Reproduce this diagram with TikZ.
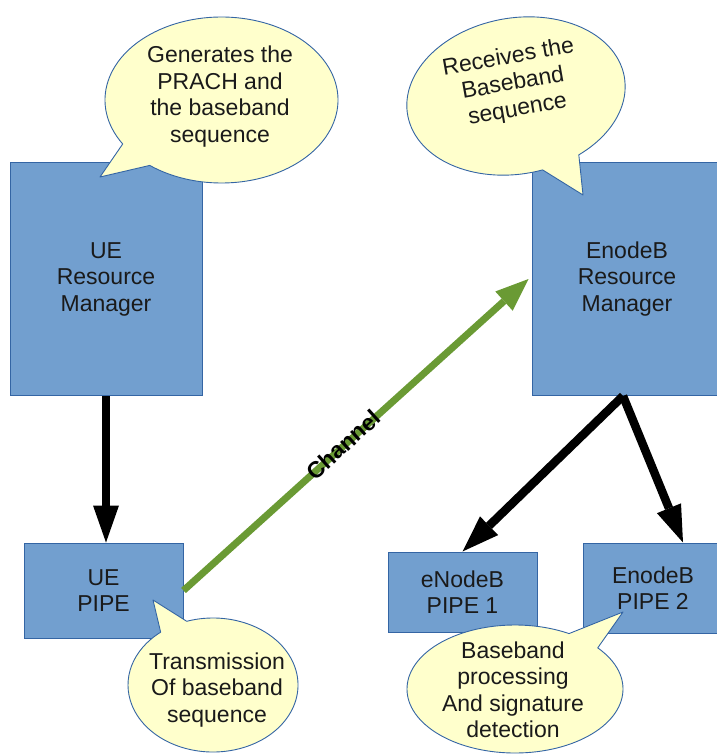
\documentclass[tikz,border=0pt]{standalone}
\usepackage{fontspec}
\setmainfont{Liberation Sans}
\usetikzlibrary{arrows.meta,calc}
\definecolor{boxfill}{HTML}{729FCF}
\definecolor{boxline}{HTML}{3465A4}
\definecolor{notefill}{HTML}{FFFFCC}
\definecolor{chgreen}{HTML}{6A9A34}
\definecolor{ink}{HTML}{1A1A1A}
\begin{document}
\begin{tikzpicture}[x=1pt,y=-1pt,
  txt/.style={text=ink, align=center, inner sep=0pt, font=\fontsize{23}{26.5}\selectfont},
  block/.style={txt, draw=boxline, line width=1pt, fill=boxfill},
  note/.style={draw=boxline, line width=0.9pt, fill=notefill, line join=round},
  flow/.style={line width=8.5pt, draw=black, -{Triangle[length=37pt,width=26pt,line width=0pt]}},
  chan/.style={line width=7pt, draw=chgreen, -{Triangle[length=33pt,width=26pt,line width=0pt]}},
  chanlabel/.style={text=black, inner sep=0pt, font=\fontsize{23}{26}\selectfont\bfseries}]
\useasboundingbox (0,0) rectangle (717,755);
\clip (0,0) rectangle (717,755);

% blocks
\node[block, minimum width=192pt, minimum height=233pt] (uerm)  at (106,279) {UE\\Resource\\Manager};
\node[block, minimum width=190pt, minimum height=233pt] (enbrm) at (627,279) {EnodeB\\Resource\\Manager};
\node[block, minimum width=159pt, minimum height=95pt]  (uepipe) at (103.5,590.5) {UE\\PIPE};
\node[block, minimum width=149pt, minimum height=80pt]  (pipe1) at (462.5,592) {eNodeB\\PIPE 1};
\node[block, minimum width=140pt, minimum height=90pt]  (pipe2) at (653,588) {EnodeB\\PIPE 2};

% connectors
\draw[flow] (uerm.south) -- (uerm.south |- uepipe.north);
\draw[flow] ([xshift=-4pt]enbrm.south) -- (pipe1.north);
\draw[flow] ([xshift=-4pt]enbrm.south) -- ([xshift=30pt]pipe2.north);
\draw[chan] (uepipe.east) -- ([xshift=-3pt]enbrm.west)
  node[chanlabel, pos=0.465, sloped, yshift=1pt] (chlabel) {Channel};

% speech bubbles
\coordinate (tipA) at (100,177);
\draw[note] ($(221.5,100)+(148:116.5 and 83)$)
  arc[start angle=148, end angle=488, x radius=116.5, y radius=83] -- (tipA) -- cycle;
\node[txt] (noteA) at (220,96.5) {Generates the\\PRACH and\\the baseband\\sequence};

\begin{scope}[shift={(516,96)}, rotate=10]
  \coordinate (tipB) at (48.8,109.1);
  \draw[note] (83:110 and 78)
    arc[start angle=83, end angle=422, x radius=110, y radius=78] -- (tipB) -- cycle;
\end{scope}
\node[txt, rotate=10] (noteB) at (513,84) {Receives the\\Baseband\\sequence};

\coordinate (tipC) at (153,600);
\draw[note] ($(213,685)+(252:85 and 67)$)
  arc[start angle=252, end angle=592, x radius=85, y radius=67] -- (tipC) -- cycle;
\node[txt] (noteC) at (217,690) {Transmission\\Of baseband\\sequence};

\coordinate (tipD) at (623,612);
\draw[note] ($(515,689)+(320:108 and 64)$)
  arc[start angle=320, end angle=660, x radius=108, y radius=64] -- (tipD) -- cycle;
\node[txt] (noteD) at (513,690) {Baseband\\processing\\And signature\\detection};
\end{tikzpicture}
\end{document}
